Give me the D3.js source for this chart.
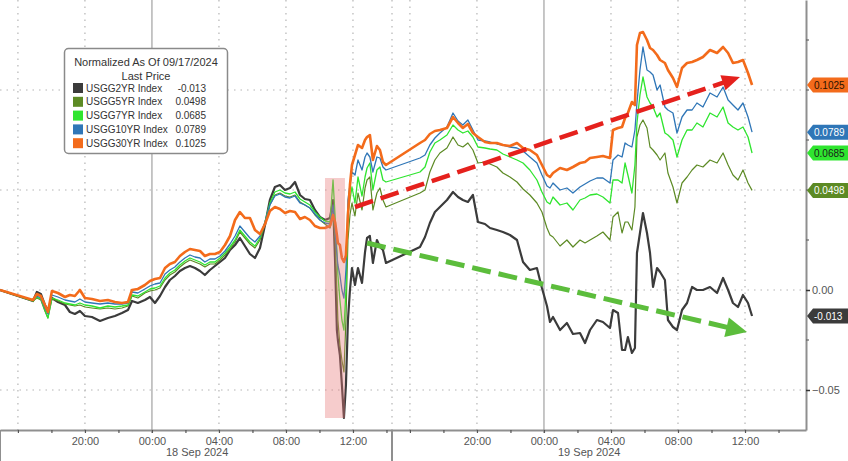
<!DOCTYPE html>
<html><head><meta charset="utf-8">
<script src="https://cdn.jsdelivr.net/npm/d3@7"></script>
<style>
body{margin:0;background:#fff}
svg{display:block}
text{font-family:"Liberation Sans",Arial,sans-serif}
</style>
</head><body>
<svg id="c" width="848" height="461"></svg>
<script>
// hours since 18 Sep 2024 00:00
const times = [
-9.07,-7.10,-6.87,-6.63,-6.39,-6.21,-5.97,-5.61,-5.19,-4.90,
-4.60,-4.30,-4.00,-3.58,-3.10,-2.63,-2.21,-1.79,-1.43,-1.19,
-0.84,-0.42,-0.12,0.18,0.48,0.78,1.07,1.37,1.67,1.97,
2.27,2.57,2.87,3.16,3.46,3.76,4.06,4.36,4.66,4.96,
5.25,5.55,5.85,6.15,6.45,6.75,7.04,7.34,7.64,7.94,
8.24,8.54,8.84,9.13,9.43,9.73,10.03,10.33,10.63,10.81,
10.93,11.04,11.10,11.22,11.34,11.46,11.58,11.70,11.82,11.94,
12.12,12.30,12.54,12.72,12.84,13.01,13.19,13.43,13.61,13.79,
13.97,
16.60,16.90,17.19,17.49,17.79,18.21,18.57,18.87,19.16,19.46,
19.76,20.06,20.48,20.78,21.19,21.55,21.97,22.39,22.75,23.16,
23.58,23.88,24.18,24.36,24.54,24.96,25.37,25.73,26.15,26.45,
26.75,27.16,27.52,27.94,28.12,28.42,28.66,28.84,29.01,29.25,
29.43,29.55,29.73,29.91,30.15,30.33,30.51,30.75,30.93,31.22,
31.40,31.70,31.94,32.24,32.54,32.84,33.13,33.49,33.91,34.33,
34.69,34.99,35.28,35.58,35.88,36.18,36.42];

const usgg30yr = [
0,-0.005,-0.002,-0.003,-0.0075,-0.011,-0.0005,-0.0015,-0.0035,-0.0025,
-0.003,0,-0.004,-0.0045,-0.0055,-0.005,-0.006,-0.0065,-0.006,0,
0.0005,0.0025,0.0045,0.0055,0.006,0.011,0.013,0.014,0.017,0.019,
0.0205,0.02,0.0195,0.017,0.018,0.018,0.019,0.0225,0.027,0.035,
0.039,0.036,0.036,0.03,0.028,0.033,0.0395,0.0415,0.0405,0.0385,
0.0395,0.039,0.0355,0.0365,0.035,0.032,0.031,0.031,0.032,0.0375,
0.034,0.0275,0.0235,0.0225,0.016,0.014,0.0175,0.0375,0.0525,0.0625,
0.0675,0.0725,0.071,0.075,0.0765,0.0775,0.065,0.072,0.07,0.064,
0.0625,
0.0735,0.075,0.078,0.0795,0.08,0.081,0.0865,0.0835,0.081,0.083,
0.0785,0.0765,0.074,0.0735,0.0735,0.0725,0.072,0.0735,0.071,0.07,
0.0675,0.0625,0.0575,0.0565,0.0585,0.061,0.06,0.0615,0.0635,0.064,
0.066,0.0665,0.067,0.066,0.08,0.081,0.0815,0.086,0.0885,0.094,
0.0925,0.1225,0.1285,0.129,0.125,0.121,0.12,0.1175,0.115,0.1135,
0.11,0.106,0.1015,0.111,0.1135,0.114,0.115,0.1165,0.12,0.1185,
0.1215,0.1185,0.1135,0.114,0.115,0.1085,0.1025];

const usgg10yr = [
0,-0.005,-0.003,-0.004,-0.009,-0.012,-0.0025,-0.0035,-0.005,-0.0055,
-0.006,-0.0045,-0.006,-0.0065,-0.007,-0.0065,-0.007,-0.007,-0.0065,-0.001,
-0.0015,0.0005,0.002,0.003,0.0035,0.008,0.01,0.0115,0.014,0.016,
0.0175,0.0165,0.016,0.014,0.0155,0.0155,0.017,0.0195,0.023,0.027,
0.032,0.029,0.026,0.024,0.027,0.034,0.0425,0.047,0.048,0.0465,
0.046,0.047,0.0435,0.0425,0.041,0.038,0.035,0.0335,0.033,0.0425,
0.03,0.0175,0.0125,0.0075,0,-0.004,0.01,0.045,0.0525,0.059,
0.0575,0.065,0.06,0.0665,0.0685,0.0665,0.059,0.0665,0.066,0.0615,
0.06,
0.066,0.0675,0.0725,0.076,0.0785,0.0815,0.0885,0.0845,0.0825,0.085,
0.08,0.075,0.0745,0.074,0.073,0.0725,0.0715,0.071,0.0695,0.0665,
0.0635,0.0575,0.052,0.051,0.0535,0.05,0.051,0.0485,0.0515,0.053,
0.0545,0.056,0.056,0.0535,0.065,0.0675,0.0665,0.0735,0.0725,0.0715,
0.08,0.0935,0.11,0.1215,0.11,0.109,0.1075,0.1,0.1025,0.0915,
0.09,0.0885,0.0785,0.0865,0.09,0.09,0.0935,0.0915,0.0985,0.0965,
0.1015,0.095,0.0925,0.09,0.0935,0.0865,0.0789];

const usgg7yr = [
0,-0.0055,-0.0035,-0.0045,-0.01,-0.014,-0.004,-0.005,-0.0065,-0.007,
-0.0075,-0.0065,-0.0075,-0.008,-0.009,-0.008,-0.0085,-0.008,-0.0075,-0.0025,
-0.003,-0.001,0.0005,0.001,0.002,0.006,0.0085,0.01,0.0125,0.0145,
0.016,0.015,0.014,0.0125,0.014,0.014,0.016,0.0185,0.0215,0.025,
0.03,0.027,0.024,0.022,0.026,0.034,0.0435,0.049,0.05,0.0485,
0.048,0.049,0.0455,0.044,0.0425,0.039,0.0365,0.0345,0.034,0.055,
0.0375,0.02,0.0075,-0.005,-0.015,-0.02,0,0.0375,0.045,0.0515,
0.0435,0.0565,0.047,0.0565,0.061,0.0635,0.05,0.06,0.0615,0.055,
0.054,
0.059,0.0615,0.069,0.0735,0.075,0.0775,0.0825,0.08,0.0785,0.0795,
0.0765,0.0715,0.071,0.0705,0.07,0.068,0.0665,0.065,0.0635,0.06,
0.055,0.049,0.044,0.043,0.0465,0.0425,0.0435,0.04,0.045,0.046,
0.0475,0.048,0.0465,0.0435,0.055,0.055,0.0535,0.0635,0.0575,0.0485,
0.0625,0.0835,0.0975,0.1065,0.0965,0.0935,0.0915,0.0865,0.0885,0.0785,
0.0775,0.075,0.0665,0.075,0.08,0.08,0.0835,0.0815,0.0885,0.0865,
0.0915,0.0835,0.0815,0.08,0.0815,0.0765,0.0685];

const usgg5yr = [
0,-0.0055,-0.004,-0.005,-0.0105,-0.014,-0.0045,-0.0055,-0.007,-0.0075,
-0.008,-0.0075,-0.0085,-0.009,-0.0095,-0.009,-0.0095,-0.009,-0.008,-0.003,
-0.004,-0.0015,-0.0005,0,0.001,0.005,0.0075,0.009,0.0115,0.0135,
0.015,0.014,0.013,0.0115,0.013,0.013,0.015,0.0175,0.0205,0.024,
0.029,0.026,0.023,0.021,0.025,0.033,0.0425,0.0475,0.0485,0.047,
0.0465,0.0475,0.044,0.0425,0.041,0.0375,0.035,0.033,0.031,0.0375,
0.025,0,-0.015,-0.0275,-0.035,-0.041,-0.015,0.025,0.0375,0.0435,
0.037,0.0485,0.04,0.051,0.055,0.0565,0.04,0.0485,0.051,0.045,
0.0415,
0.0485,0.05,0.059,0.065,0.0685,0.071,0.0765,0.0725,0.0715,0.0735,
0.07,0.0635,0.064,0.063,0.0615,0.0585,0.0565,0.054,0.0505,0.0475,
0.0435,0.039,0.031,0.0275,0.0265,0.022,0.025,0.0215,0.025,0.0235,
0.025,0.027,0.029,0.025,0.0365,0.039,0.0285,0.034,0.034,0.03,
0.0415,0.0765,0.0825,0.085,0.081,0.0715,0.07,0.0675,0.065,0.0685,
0.0585,0.0515,0.0435,0.0535,0.0565,0.06,0.0625,0.0615,0.065,0.0635,
0.0685,0.0625,0.0575,0.055,0.06,0.0535,0.0498];

const usgg2yr = [
0,-0.0055,-0.001,-0.002,-0.0075,-0.01,-0.004,-0.006,-0.0075,-0.011,
-0.012,-0.0105,-0.013,-0.0135,-0.0155,-0.014,-0.013,-0.0115,-0.01,-0.0055,
-0.0065,-0.005,-0.0035,-0.0065,-0.003,0.0015,0.005,0.007,0.0095,0.011,
0.012,0.011,0.0095,0.0075,0.01,0.012,0.014,0.016,0.02,0.0225,
0.026,0.022,0.018,0.016,0.021,0.0325,0.045,0.0515,0.0525,0.05,
0.051,0.054,0.0475,0.0455,0.045,0.04,0.0365,0.035,0.036,0.045,
0.015,-0.02,-0.025,-0.0325,-0.0475,-0.064,-0.0475,-0.015,0,0.011,
0.0025,0.011,0.0035,0.019,0.026,0.027,0.0135,0.025,0.0215,0.02,
0.0135,
0.0215,0.0265,0.0335,0.039,0.0415,0.045,0.049,0.0465,0.045,0.044,
0.0475,0.034,0.033,0.031,0.03,0.029,0.0275,0.025,0.014,0.01,
0.011,0.001,-0.008,-0.016,-0.0135,-0.02,-0.0165,-0.022,-0.0215,-0.0265,
-0.02,-0.015,-0.016,-0.019,-0.01,-0.0115,-0.03,-0.03,-0.0235,-0.0315,
-0.029,0.0185,0.0285,0.0385,0.0285,0.0185,0.0015,0.011,0.009,0.005,
-0.015,-0.0185,-0.02,-0.01,-0.0065,0.0015,0,0,0.0015,-0.0015,
0.006,0,-0.0065,-0.0085,-0.0025,-0.0065,-0.013];

const seriesNames = ["USGG2YR Index","USGG5YR Index","USGG7YR Index","USGG10YR Index","USGG30YR Index"];
const seriesValues = [usgg2yr, usgg5yr, usgg7yr, usgg10yr, usgg30yr];
const lastLabels = ["-0.013","0.0498","0.0685","0.0789","0.1025"];
const legendTitle = ["Normalized As Of 09/17/2024","Last Price"];
const yGridTicks = [-0.05, 0, 0.05, 0.10];
const yLabelTicks = [-0.05, 0];          // 0.05 / 0.10 labels sit hidden under the value tags
const yMinorTicks = [-0.025, 0.025, 0.075, 0.125];
const xLabelHours = [-4, 0, 4, 8, 12, 20, 24, 28, 32, 36];
const xMinorHours = [-8,-6,-4,-2,0,2,4,6,8,10,12,14,16,18,20,22,24,26,28,30,32,34,36,38];
const xGridHours = [-8,-4,4,8,12,14.33,16,20,28,32,36];
const midnightHours = [0, 24];
const dateLabels = ["18 Sep 2024","19 Sep 2024"];
const dateLabelHours = [2.7, 26.7];
const sessionBreak = [14.33, 14.93];
const shadeTime = [10.33, 11.52];
const shadeValue = [0.056, -0.064];
const upTrend = {from:[12.12, 0.0415], to:[35.70, 0.1065]};
const downTrend = {from:[12.84, 0.0235], to:[36.12, -0.021]};

// styles
const colors = ["#3b3b3b","#5c8a24","#2fe52f","#2f76b7","#f36b1b"];
const widths = [2.2, 1.2, 1.3, 1.3, 2.6];
const tagText = ["#ffffff","#ffffff","#1a1a1a","#ffffff","#2a1200"];

const svg = d3.select("#c");
const W = 848, H = 461;
const plotR = 806, plotB = 430;

const x = d3.scaleLinear()
  .domain([-9.07, sessionBreak[0], sessionBreak[1], 39.64])
  .range([0, 392, 392, plotR]);
const y = d3.scaleLinear().domain([-0.07, 0.145]).range([plotB, 0]);

// grid
const grid = svg.append("g");
grid.selectAll("line.h").data(yGridTicks).join("line")
  .attr("x1", 0).attr("x2", plotR).attr("y1", d => y(d)).attr("y2", d => y(d))
  .attr("stroke", "#b5b5b5").attr("stroke-width", 1.2).attr("stroke-dasharray", "1.5,5");
grid.selectAll("line.v").data(xGridHours).join("line")
  .attr("x1", d => x(d)).attr("x2", d => x(d)).attr("y1", 0).attr("y2", plotB)
  .attr("stroke", "#b5b5b5").attr("stroke-width", 1.2).attr("stroke-dasharray", "1.5,5");
grid.selectAll("line.m").data(midnightHours).join("line")
  .attr("x1", d => x(d)).attr("x2", d => x(d)).attr("y1", 0).attr("y2", plotB + 3)
  .attr("stroke", "#a8a8a8").attr("stroke-width", 1.3);

// lines
const idx = d3.range(times.length);
const lineGen = vals => d3.line().x(i => x(times[i])).y(i => y(vals[i]))(idx);
const drawOrder = [0, 1, 2, 3, 4];
svg.append("g").selectAll("path").data(drawOrder).join("path")
  .attr("d", k => lineGen(seriesValues[k]))
  .attr("fill", "none").attr("stroke", k => colors[k]).attr("stroke-width", k => widths[k])
  .attr("stroke-linejoin", "round");

// shaded event
svg.append("rect")
  .attr("x", x(shadeTime[0])).attr("width", x(shadeTime[1]) - x(shadeTime[0]))
  .attr("y", y(shadeValue[0])).attr("height", y(shadeValue[1]) - y(shadeValue[0]))
  .attr("fill", "rgb(232,120,120)").attr("opacity", 0.38);

// trend arrows
function arrow(a, color, sw, headLen, headW) {
  const x0 = x(a.from[0]), y0 = y(a.from[1]), x1 = x(a.to[0]), y1 = y(a.to[1]);
  const ang = Math.atan2(y1 - y0, x1 - x0);
  const bx = x1 - headLen * Math.cos(ang), by = y1 - headLen * Math.sin(ang);
  svg.append("line").attr("x1", x0).attr("y1", y0).attr("x2", bx + 2 * Math.cos(ang)).attr("y2", by + 2 * Math.sin(ang))
    .attr("stroke", color).attr("stroke-width", sw).attr("stroke-dasharray", "19,8");
  const px = Math.sin(ang) * headW / 2, py = -Math.cos(ang) * headW / 2;
  svg.append("path")
    .attr("d", `M${x1},${y1}L${bx + px},${by + py}L${bx - px},${by - py}Z`)
    .attr("fill", color);
}
arrow(upTrend, "#e5211d", 4.5, 18, 16);
arrow(downTrend, "#5cbd3c", 5, 21, 20);

// axes
const axisColor = "#8f8f8f";
const xMinor = svg.append("g").attr("transform", `translate(0,${plotB})`)
  .call(d3.axisBottom(x).tickValues(xMinorHours).tickSize(3).tickSizeOuter(0).tickFormat(""));
xMinor.select(".domain").attr("stroke", axisColor).attr("stroke-width", 2);
xMinor.selectAll(".tick line").attr("stroke", "#555").attr("stroke-width", 1.2);

const fmtHour = h => { const m = ((h % 24) + 24) % 24; return (m < 10 ? "0" : "") + m + ":00"; };
const xLab = svg.append("g").attr("transform", `translate(0,${plotB})`)
  .call(d3.axisBottom(x).tickValues(xLabelHours).tickSize(0).tickPadding(7).tickFormat(fmtHour));
xLab.select(".domain").remove();
xLab.selectAll("text").attr("fill", "#555").style("font-size", "11px").style("font-family", '"Liberation Sans",Arial,sans-serif');

svg.append("g").selectAll("text").data(dateLabels).join("text")
  .attr("x", (d, i) => x(dateLabelHours[i])).attr("y", 456)
  .attr("text-anchor", "middle").attr("fill", "#555").style("font-size", "11px").text(d => d);

// long separators below axis
svg.append("g").selectAll("line").data([-9.07, sessionBreak[0]]).join("line")
  .attr("x1", d => x(d)).attr("x2", d => x(d)).attr("y1", plotB).attr("y2", H)
  .attr("stroke", axisColor).attr("stroke-width", 2);

const yAx = svg.append("g").attr("transform", `translate(${plotR},0)`)
  .call(d3.axisRight(y).tickValues(yLabelTicks).tickSize(4).tickSizeOuter(0).tickPadding(2).tickFormat(d3.format(".2f")));
yAx.select(".domain").attr("stroke", axisColor).attr("stroke-width", 2);
yAx.selectAll(".tick line").attr("stroke", "#333").attr("stroke-width", 1.5);
yAx.selectAll("text").attr("fill", "#555").style("font-size", "11px").style("font-family", '"Liberation Sans",Arial,sans-serif');
svg.append("g").selectAll("line").data(yMinorTicks.concat([0.05, 0.10])).join("line")
  .attr("x1", plotR).attr("x2", plotR + 3).attr("y1", d => y(d)).attr("y2", d => y(d))
  .attr("stroke", "#666").attr("stroke-width", 1.2);

// value tags
const tags = svg.append("g").selectAll("g").data(drawOrder).join("g")
  .attr("transform", k => `translate(${plotR},${y(seriesValues[k][seriesValues[k].length - 1])})`);
tags.append("path").attr("d", "M1,0L7,-7.5L42,-7.5L42,7.5L7,7.5Z").attr("fill", k => colors[k]);
tags.append("text").attr("x", 8).attr("dy", "0.35em").attr("fill", k => tagText[k])
  .style("font-size", "10px").text(k => lastLabels[k]);

// legend
const lg = svg.append("g");
lg.append("rect").attr("x", 64.5).attr("y", 48.5).attr("width", 163).attr("height", 105).attr("rx", 4)
  .attr("fill", "#fff").attr("stroke", "#8a8a8a").attr("stroke-width", 1.5);
lg.selectAll("text.t").data(legendTitle).join("text")
  .attr("x", 146).attr("y", (d, i) => 66 + i * 14).attr("text-anchor", "middle")
  .attr("fill", "#333").style("font-size", "11px").text(d => d);
const rows = lg.selectAll("g.r").data(drawOrder).join("g")
  .attr("transform", k => `translate(0,${88 + k * 13.8})`);
rows.append("rect").attr("x", 73).attr("y", -5).attr("width", 10).attr("height", 10).attr("fill", k => colors[k]);
rows.append("text").attr("x", 86).attr("dy", "0.35em").attr("fill", "#333").style("font-size", "10px").text(k => seriesNames[k]);
rows.append("text").attr("x", 206).attr("dy", "0.35em").attr("text-anchor", "end").attr("fill", "#333").style("font-size", "10px").text(k => lastLabels[k]);
</script>
</body></html>
